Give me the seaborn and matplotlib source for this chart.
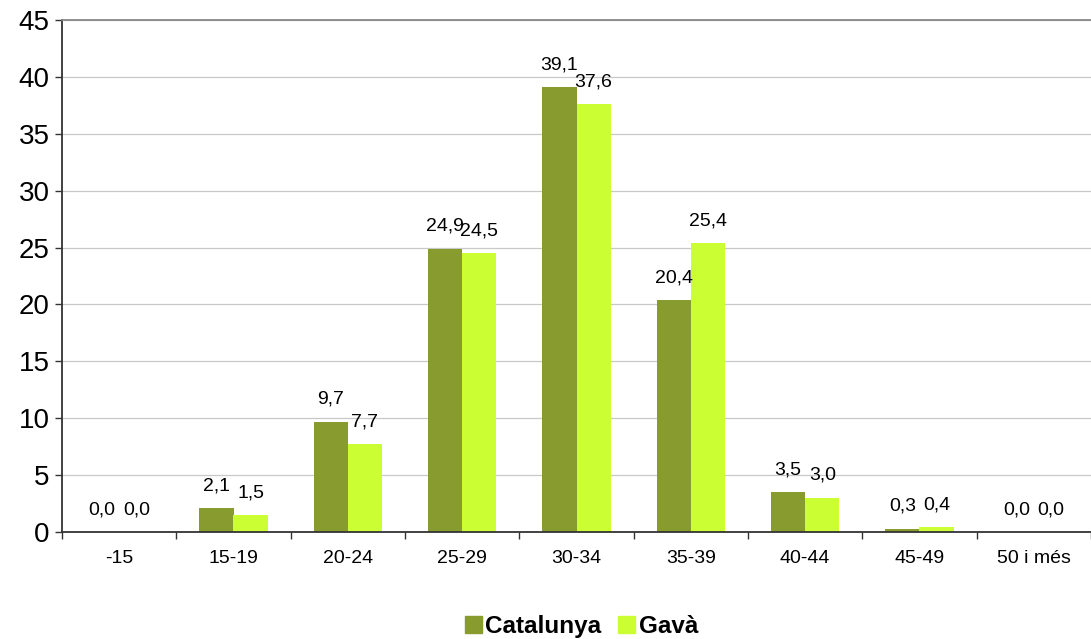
import numpy as np
import pandas as pd
import matplotlib
matplotlib.use('Agg')
import matplotlib.pyplot as plt
import seaborn as sns

categories = ['-15', '15-19', '20-24', '25-29', '30-34', '35-39', '40-44', '45-49', '50 i més']
catalunya = [0.0, 2.1, 9.7, 24.9, 39.1, 20.4, 3.5, 0.3, 0.0]
gava = [0.0, 1.5, 7.7, 24.5, 37.6, 25.4, 3.0, 0.4, 0.0]
series = ['Catalunya', 'Gavà']
colors = ['#879B2F', '#CCFF33']

df = pd.DataFrame({
    'edat': categories * 2,
    'valor': catalunya + gava,
    'serie': [series[0]] * len(categories) + [series[1]] * len(categories),
})

sns.set_style('white')
plt.rcParams['font.family'] = ['Liberation Sans', 'DejaVu Sans']
plt.rcParams['text.color'] = 'black'
plt.rcParams['xtick.labelcolor'] = 'black'
plt.rcParams['ytick.labelcolor'] = 'black'

fig = plt.figure(figsize=(10.91, 6.39), dpi=100)
ax = fig.add_axes([62 / 1091, 107 / 639, 1 - 62 / 1091, 512 / 639])

sns.barplot(data=df, x='edat', y='valor', hue='serie', order=categories,
            hue_order=series, palette=colors, width=0.6, gap=0,
            saturation=1, edgecolor='none', linewidth=0, ax=ax, legend=False)

# value labels over bars
for cont in ax.containers:
    labels = [f'{b.get_height():.1f}'.replace('.', ',') for b in cont]
    ax.bar_label(cont, labels=labels, padding=10, fontsize=14, color='black')

ax.set_xlim(-0.5, len(categories) - 0.5)
ax.set_ylim(0, 45)
ax.set_yticks(np.arange(0, 46, 5))
ax.yaxis.grid(True, color='#c8c8c8', linewidth=0.9)
ax.set_axisbelow(True)
ax.set_xlabel('')
ax.set_ylabel('')

ax.tick_params(axis='y', labelsize=20, length=5, width=1, color='#333333',
               direction='out', left=True, pad=4)
ax.tick_params(axis='x', which='major', labelsize=14, length=0, pad=13)
ax.set_xticks(np.arange(-0.5, len(categories)), minor=True)
ax.tick_params(axis='x', which='minor', length=5, width=1, color='#333333',
               direction='out', bottom=True)

for side in ['left', 'bottom']:
    ax.spines[side].set_color('#333333')
    ax.spines[side].set_linewidth(1.3)
ax.spines['top'].set_color('#888888')
ax.spines['top'].set_linewidth(1.3)
ax.spines['right'].set_visible(False)

handles = [plt.Rectangle((0, 0), 1, 1, color=c) for c in colors]
fig.legend(handles, series, loc='center', bbox_to_anchor=(0.533, 0.02),
           ncol=2, frameon=False, handlelength=0.7, handleheight=0.7,
           handletextpad=0.15, columnspacing=0.7,
           prop={'weight': 'bold', 'size': 17.5})

fig.savefig('out.png', dpi=100)
